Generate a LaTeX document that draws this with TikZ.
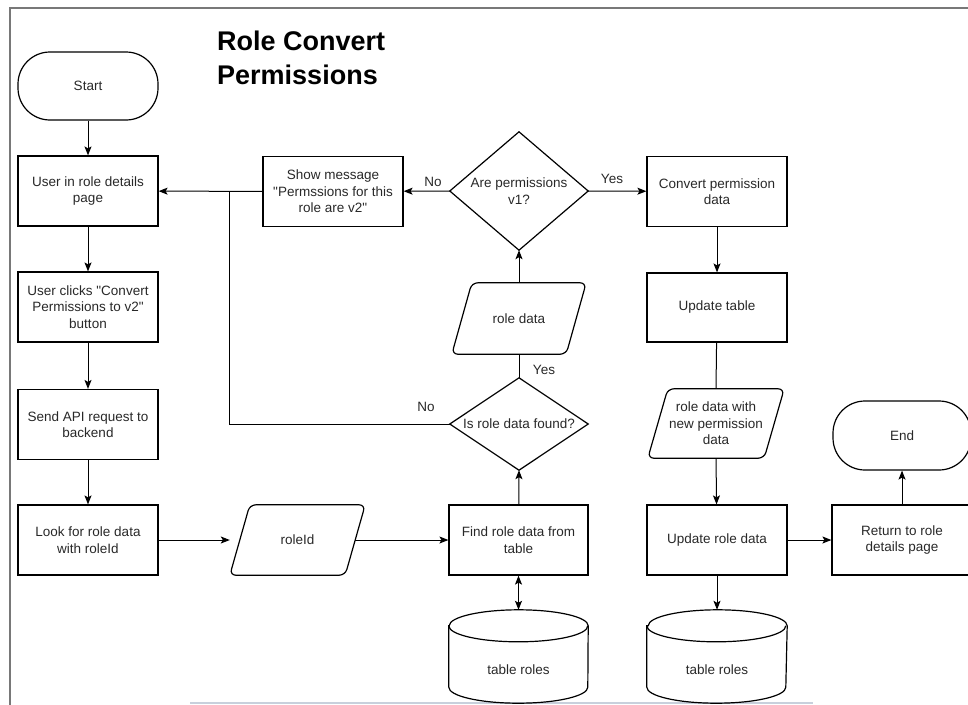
\documentclass[tikz,border=0pt]{standalone}
\usepackage{fontspec}
\setmainfont{Liberation Sans}[Ligatures=TeXOff]
\usetikzlibrary{arrows.meta}
\definecolor{txt}{RGB}{40,40,40}
\definecolor{framegray}{RGB}{120,120,120}
\definecolor{rulecolor}{RGB}{200,208,220}

% parallelogram (data) outline drawn around a named node
\newcommand\iooutline[1]{%
  \draw[shapeline, rounded corners=6pt]
    ([xshift=20pt]#1.north west) -- (#1.north east)
    -- ([xshift=-20pt]#1.south east) -- (#1.south west) -- cycle;}
% decision outline
\newcommand\decisionoutline[1]{%
  \draw[shapeline] (#1.north) -- (#1.east) -- (#1.south) -- (#1.west) -- cycle;}
% database cylinder outline
\newcommand\dboutline[1]{%
  \draw[shapeline]
    ([yshift=-16pt]#1.north west) -- ([yshift=16pt]#1.south west)
    arc[start angle=180, end angle=360, x radius=69.5pt, y radius=16pt]
    -- ([yshift=-16pt]#1.north east)
    arc[start angle=0, end angle=180, x radius=69.5pt, y radius=16pt] -- cycle;
  \draw[shapeline] ([yshift=-16pt]#1.north west)
    arc[start angle=180, end angle=360, x radius=69.5pt, y radius=16pt];}

\begin{document}
\begin{tikzpicture}[x=1pt, y=-1pt,
  every node/.style={font=\fontsize{13.5}{16.5}\selectfont, text=txt, align=center, inner sep=0pt},
  shapeline/.style={draw=black, line width=1.2pt},
  procbox/.style={shapeline, rectangle, minimum width=140pt, minimum height=70pt},
  termbox/.style={shapeline, rectangle, rounded corners=32pt, minimum width=140pt, minimum height=68pt},
  areabox/.style 2 args={rectangle, minimum width=#1, minimum height=#2},
  flow/.style={draw=black, line width=1pt, -{Stealth[length=9pt, width=7pt, inset=2pt]}},
  twoway/.style={draw=black, line width=1pt, {Stealth[length=9pt, width=7pt, inset=2pt]}-{Stealth[length=9pt, width=7pt, inset=2pt]}},
  link/.style={draw=black, line width=1pt},
  edgelabel/.style={font=\fontsize{13.5}{16.5}\selectfont}
]
\useasboundingbox (0,0) rectangle (968,704);
\clip (0,0) rectangle (968,704);

% page frame
\draw[framegray, line width=2pt] (10,720) -- (10,7.5) -- (990,7.5);
\draw[rulecolor, line width=1.5pt] (190,703) -- (813,703);

% title
\node[anchor=north west, align=left, text=black,
      font=\bfseries\fontsize{27}{34}\selectfont] (title) at (217,31)
  {Role Convert\\Permissions};

% left column
\node[termbox] (start) at (88,86) {Start};
\node[procbox] (inpage) at (88,191) {User in role details\\page};
\node[procbox] (clicks) at (88,307) {User clicks "Convert\\Permissions to v2"\\button};
\node[procbox] (send) at (88,424.5) {Send API request to\\backend};
\node[procbox] (look) at (88,540) {Look for role data\\with roleId};

% role id
\node[areabox={135pt}{70pt}] (roleid) at (297.5,540) {roleId};
\iooutline{roleid}

% lookup column
\node[procbox, minimum width=139pt] (find) at (518.5,540) {Find role data from\\table};
\node[areabox={139pt}{93pt}] (tbl1) at (518.5,656.5) {};
\dboutline{tbl1}
\node (tbl1text) at (518.5,670) {table roles};

\node[areabox={138pt}{92pt}] (found) at (519,424) {Is role data found?};
\decisionoutline{found}

\node[areabox={134pt}{71pt}] (roledata) at (519,318.5) {role data};
\iooutline{roledata}

\node[areabox={138pt}{118pt}] (perm) at (519,191) {Are permissions\\v1?};
\decisionoutline{perm}

\node[procbox] (showmsg) at (333,191.5) {Show message\\"Permssions for this\\role are v2"};

% update column
\node[procbox] (convert) at (717,191.5) {Convert permission\\data};
\node[procbox, minimum height=69pt] (updtable) at (717,307.5) {Update table};
\node[areabox={136pt}{69pt}] (newdata) at (716,423.5) {role data with\\new permission\\data};
\iooutline{newdata}
\node[procbox] (updrole) at (717,540) {Update role data};
\node[areabox={140pt}{93pt}] (tbl2) at (717,656.5) {};
\dboutline{tbl2}
\node (tbl2text) at (717,670) {table roles};

% exit
\node[procbox] (ret) at (902,540) {Return to role\\details page};
\node[termbox, minimum width=138pt, minimum height=69pt] (end) at (902,435.5) {End};

% junction for the two "not applicable" paths
\coordinate (jtop) at (229,191.5);
\coordinate (jlow) at (229,424);

% connectors
\draw[flow] (start) -- (inpage);
\draw[flow] (inpage) -- (clicks);
\draw[flow] (clicks) -- (send);
\draw[flow] (send) -- (look);
\draw[flow] (look) -- (roleid.west);
\draw[flow] ([xshift=-10pt]roleid.east) -- (find);
\draw[twoway] (find) -- (tbl1.north);
\draw[flow] (find) -- (found.south);
\draw[link] (found.north) -- (roledata.south);
\draw[flow] (roledata.north) -- (perm.south);
\draw[flow] (perm.west) -- (showmsg);
\draw[flow] (perm.east) -- (convert);
\draw[flow] (showmsg) -- (inpage);
\draw[link] (found.west) -- (jlow) -- (jtop);
\draw[flow] (convert) -- (updtable);
\draw[link] (updtable) -- (newdata.north);
\draw[flow] (newdata.south) -- (updrole);
\draw[flow] (updrole) -- (tbl2.north);
\draw[flow] (updrole) -- (ret);
\draw[flow] (ret) -- (end);

% branch labels
\node[edgelabel] (nopermlbl) at (433,182) {No};
\node[edgelabel] (yespermlbl) at (612,179) {Yes};
\node[edgelabel] (yesfoundlbl) at (544,370) {Yes};
\node[edgelabel] (nofoundlbl) at (426,407) {No};
\end{tikzpicture}
\end{document}
